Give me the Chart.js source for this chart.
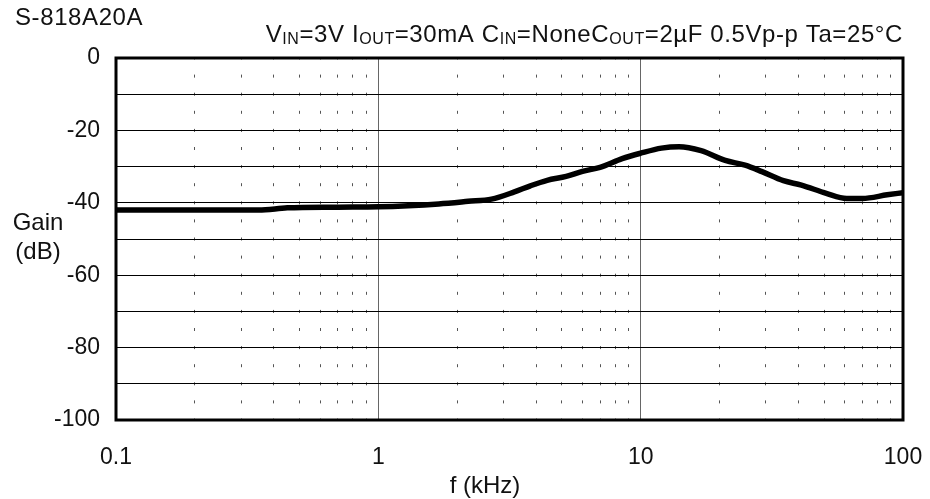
<!DOCTYPE html>
<html>
<head>
<meta charset="utf-8">
<script src="https://cdn.jsdelivr.net/npm/chart.js@4/dist/chart.umd.min.js"></script>
<style>
  body { margin: 0; background: #fff; }
  #wrap { width: 930px; height: 499px; }
</style>
</head>
<body>
<div id="wrap"><canvas id="gainChart" width="930" height="499"></canvas></div>
<script>
// ---- data ----
const freqKHz = [0.1, 0.2, 0.35, 0.45, 0.7, 1.0, 1.3, 1.7, 2.2, 2.7, 3.3, 3.8, 4.4, 5.2, 6.0, 7.0, 8.5, 10, 12, 14, 17, 21, 25, 29, 35, 41, 51, 61, 70, 87, 100];
const gainDb  = [-42, -42, -42, -41.4, -41.2, -41.1, -40.8, -40.3, -39.6, -39, -37, -35.3, -33.8, -32.7, -31.3, -30.2, -27.8, -26.3, -24.9, -24.5, -25.6, -28.3, -29.6, -31.4, -33.9, -35.1, -37.4, -38.8, -38.8, -37.8, -37.2];

const decadeTicks = [0.1, 1, 10, 100];
const minorSteps = [2, 3, 4, 5, 6, 7, 8, 9];
const yTicks = [0, -20, -40, -60, -80, -100];

const chartTitle = 'S-818A20A';
// condition line, [text, isSubscript]
const conditionParts = [
  ['V', false], ['IN', true], ['=3V I', false], ['OUT', true], ['=30mA C', false], ['IN', true],
  ['=None', false], ['C', false], ['OUT', true], ['=2\u00b5F 0.5Vp-p Ta=25\u00b0C', false]
];
const yTitleLines = ['Gain', '(dB)'];
const xTitle = 'f (kHz)';

const FONT = '"Liberation Sans", Arial, sans-serif';
const INK = '#111';

// minor tick positions 0.2..0.9, 2..9, 20..90
const minorTicks = [];
decadeTicks.slice(0, 3).forEach(d => minorSteps.forEach(m => minorTicks.push(+(d * m).toPrecision(3))));

// ---- frame + free texts ----
const decorPlugin = {
  id: 'decor',
  afterDatasetsDraw(chart) {
    const { ctx, chartArea: a } = chart;
    ctx.save();
    ctx.strokeStyle = '#000';
    ctx.lineWidth = 3;
    ctx.strokeRect(a.left, a.top, a.right - a.left, a.bottom - a.top);
    ctx.restore();
  },
  afterDraw(chart) {
    const { ctx, chartArea: a } = chart;
    ctx.save();
    ctx.fillStyle = INK;
    ctx.textBaseline = 'alphabetic';
    ctx.letterSpacing = '0.6px';

    // top-left title
    ctx.font = `24px ${FONT}`;
    ctx.textAlign = 'left';
    ctx.fillText(chartTitle, 15, 25);

    // condition line with subscripts, right aligned to the plot
    const mainFont = `24px ${FONT}`;
    const subFont = `16px ${FONT}`;
    let total = 0;
    conditionParts.forEach(([t, sub]) => {
      ctx.font = sub ? subFont : mainFont;
      total += ctx.measureText(t).width;
    });
    let x = a.right - total;
    conditionParts.forEach(([t, sub]) => {
      ctx.font = sub ? subFont : mainFont;
      ctx.fillText(t, x, sub ? 44 : 42);
      x += ctx.measureText(t).width;
    });
    ctx.letterSpacing = '0px';

    // y title, horizontal, two lines
    ctx.font = `24px ${FONT}`;
    ctx.textAlign = 'center';
    ctx.fillText(yTitleLines[0], 38, 230);
    ctx.fillText(yTitleLines[1], 38, 259);

    // x title
    ctx.fillText(xTitle, 485, 493);
    ctx.restore();
  }
};

new Chart(document.getElementById('gainChart'), {
  type: 'line',
  data: {
    datasets: [{
      data: freqKHz.map((f, i) => ({ x: f, y: gainDb[i] })),
      borderColor: '#000',
      borderWidth: 5.5,
      pointRadius: 0,
      cubicInterpolationMode: 'monotone',
      fill: false
    }]
  },
  options: {
    responsive: false,
    animation: false,
    devicePixelRatio: 1,
    layout: { padding: { top: 58, right: 27, left: 0, bottom: 0 } },
    plugins: { legend: { display: false }, title: { display: false }, tooltip: { enabled: false } },
    scales: {
      xm: {
        type: 'logarithmic',
        position: 'bottom',
        min: 0.1,
        max: 100,
        afterBuildTicks: s => { s.ticks = minorTicks.map(v => ({ value: v })); },
        afterFit: s => { s.height = 0; s.paddingLeft = 0; s.paddingRight = 0; },
        ticks: { display: false },
        grid: { color: '#555', lineWidth: 1, drawTicks: false },
        border: { display: false, dash: [3, 15.1], dashOffset: 1.5 }
      },
      x: {
        type: 'logarithmic',
        position: 'bottom',
        min: 0.1,
        max: 100,
        afterBuildTicks: s => { s.ticks = decadeTicks.map(v => ({ value: v })); },
        afterFit: s => { s.height = 79; s.paddingLeft = 0; s.paddingRight = 0; },
        ticks: {
          color: INK,
          font: { family: FONT, size: 23 },
          padding: 24,
          maxRotation: 0,
          autoSkip: false,
          callback: v => String(v)
        },
        grid: { color: '#666', lineWidth: 1, drawTicks: false },
        border: { display: false }
      },
      y: {
        min: -100,
        max: 0,
        afterFit: s => { s.width = 116; s.paddingTop = 0; s.paddingBottom = 0; },
        ticks: {
          stepSize: 10,
          color: INK,
          font: { family: FONT, size: 23 },
          padding: 16,
          autoSkip: false,
          callback: v => (yTicks.includes(v) ? String(v) : '')
        },
        grid: { color: '#000', lineWidth: 1, drawTicks: false },
        border: { display: false }
      }
    }
  },
  plugins: [decorPlugin]
});
</script>
</body>
</html>
